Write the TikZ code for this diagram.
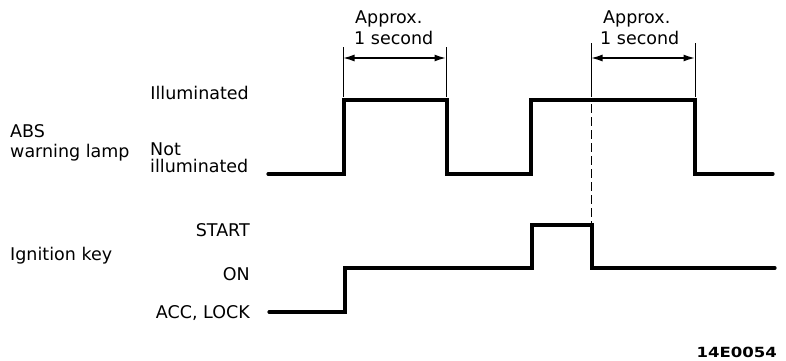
\documentclass[tikz,border=0pt]{standalone}
\usepackage{fontspec}
\usepackage{graphicx}
\setmainfont{DejaVu Sans}
\usetikzlibrary{arrows.meta}
\begin{document}
\begin{tikzpicture}[x=1pt,y=-1pt,
  lbl/.style={inner sep=0pt,font=\fontsize{17.5}{20}\selectfont},
  wave/.style={line width=3.2pt,line join=miter,line cap=round},
  extl/.style={line width=0.9pt},
  dimarrow/.style={line width=2pt,{Latex[length=12pt,width=7pt]}-{Latex[length=12pt,width=7pt]},shorten <=-0.5pt,shorten >=-0.5pt},
  dashl/.style={line width=0.9pt,dash pattern=on 9pt off 4pt}]
\useasboundingbox (0,0) rectangle (786,360);
% left labels
\node[lbl,anchor=base west] (abs) at (10,137) {ABS};
\node[lbl,anchor=base west] (warn) at (10,157) {warning lamp};
\node[lbl,anchor=base west] (ign) at (10,260) {Ignition key};
\node[lbl,anchor=base east] (ill) at (249,99) {Illuminated};
\node[lbl,anchor=base west] (nt) at (150,155) {Not};
\node[lbl,anchor=base west] (nill) at (150,172) {illuminated};
\node[lbl,anchor=base east] (start) at (250,236) {START};
\node[lbl,anchor=base east] (on) at (250,280) {ON};
\node[lbl,anchor=base east] (acc) at (250,318) {ACC, LOCK};
% waveforms
\draw[wave] (268,174) -- (344,174) -- (344,100) -- (447,100) -- (447,174) -- (531,174) -- (531,100) -- (695,100) -- (695,174) -- (773,174);
\draw[wave] (269,312) -- (345,312) -- (345,268) -- (532,268) -- (532,225) -- (592,225) -- (592,268) -- (775,268);
% dimension 1
\coordinate (d1a) at (343,47);
\coordinate (d1b) at (446,47);
\draw[extl] (d1a) -- (343,97);
\draw[extl] (d1b) -- (446,97);
\coordinate (a1l) at (343,58);
\coordinate (a1r) at (446,58);
\draw[dimarrow] (a1l) -- (a1r);
\node[lbl,anchor=base west] (ap1) at (355,23) {Approx.};
\node[lbl,anchor=base west] (se1) at (354,44) {1 second};
% dimension 2
\coordinate (d2a) at (591,43);
\coordinate (d2b) at (695,43);
\draw[extl] (d2a) -- (591,97);
\draw[extl] (d2b) -- (695,97);
\coordinate (a2l) at (591,58);
\coordinate (a2r) at (695,58);
\draw[dimarrow] (a2l) -- (a2r);
\node[lbl,anchor=base west] (ap2) at (603,23) {Approx.};
\node[lbl,anchor=base west] (se2) at (600,44) {1 second};
% dashed marker
\coordinate (dtop) at (591,104);
\coordinate (dbot) at (591,224);
\draw[dashl] (dtop) -- (dbot);
% figure code
\node[inner sep=0pt,anchor=base east] (code) at (777,357) {\scalebox{1.18}[1]{\fontsize{14}{16}\selectfont\bfseries 14E0054}};
\end{tikzpicture}
\end{document}
